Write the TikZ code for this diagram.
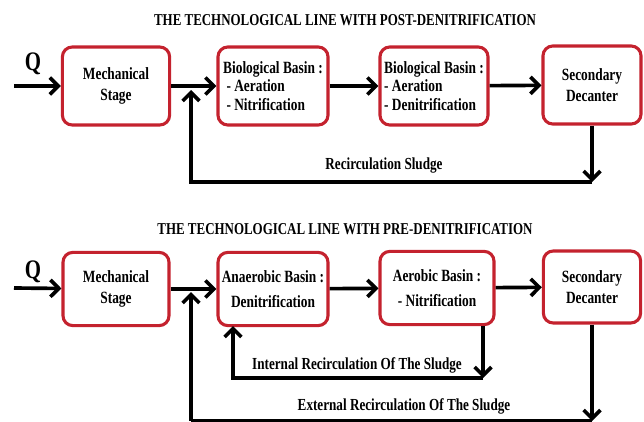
\documentclass[tikz,border=0pt]{standalone}
\usepackage{fontspec}
\setmainfont[FakeStretch=0.78]{Liberation Serif}
\usetikzlibrary{arrows.meta,positioning}

\definecolor{boxred}{RGB}{196,34,46}
\tikzset{
  stage/.style={draw=boxred,line width=2.2pt,rounded corners=7pt,fill=white,
    align=center,minimum height=1.95cm,inner sep=2pt,
    font=\bfseries\fontsize{12.2}{14.5}\selectfont},
  flow/.style={-{Straight Barb[length=6pt,width=12pt]},line width=2.6pt},
  line/.style={line width=2.6pt},
  caption/.style={font=\bfseries\fontsize{11.8}{13}\selectfont},
  tag/.style={font=\bfseries\fontsize{12}{13}\selectfont},
  inflow/.style={font=\bfseries\fontsize{19}{21}\selectfont}
}

\begin{document}
\begin{tikzpicture}[x=0.025cm,y=-0.025cm]
\useasboundingbox (0,0) rectangle (644,421);

% post-denitrification
\node[caption] (t1) at (345,20) {THE TECHNOLOGICAL LINE WITH POST-DENITRIFICATION};
\node[inflow] (q1) at (33,64) {Q};
\node[stage,minimum width=2.68cm] (mech1) at (116,86) {Mechanical\\Stage};
\node[stage,minimum width=2.75cm,align=left] (bio1) at (273,86) {Biological Basin :\\[-1.5pt] ~- Aeration\\[-1.5pt] ~- Nitrification};
\node[stage,minimum width=2.7cm,align=left] (bio2) at (434,86) {Biological Basin :\\[-1.5pt] - Aeration\\[-1.5pt] - Denitrification};
\node[stage,minimum width=2.45cm] (dec1) at (592,85) {Secondary\\Decanter};
\node[tag] (lbl1) at (384,166) {Recirculation Sludge};
\coordinate (in1) at (14,86);
\coordinate (j1) at (191,90);
\coordinate (r1) at (592,182);
\coordinate (r2) at (191,182);

\draw[flow] (in1) -- (mech1);
\draw[flow] (mech1) -- (bio1);
\draw[flow] (bio1) -- (bio2);
\draw[flow] (bio2) -- (dec1);
\draw[flow] (dec1) -- (r1);
\draw[flow] (r1) -- (r2) -- (j1);

% pre-denitrification
\node[caption] (t2) at (345,229) {THE TECHNOLOGICAL LINE WITH PRE-DENITRIFICATION};
\node[inflow] (q2) at (33,272) {Q};
\node[stage,minimum width=2.65cm,minimum height=1.83cm] (mech2) at (116,289) {Mechanical\\Stage};
\node[stage,minimum width=2.75cm,minimum height=1.83cm] (ana) at (273,289) {Anaerobic Basin :\\[3pt] Denitrification};
\node[stage,minimum width=2.85cm,minimum height=1.83cm] (aer) at (437,288) {Aerobic Basin :\\[3pt] - Nitrification};
\node[stage,minimum width=2.43cm,minimum height=1.8cm] (dec2) at (592,287) {Secondary\\Decanter};
\node[tag] (lbl2) at (357,365) {Internal Recirculation Of The Sludge};
\node[tag] (lbl3) at (404,406) {External Recirculation Of The Sludge};
\coordinate (in2) at (14,288);
\coordinate (j2) at (191,292);
\coordinate (s1) at (483,378);
\coordinate (s2) at (233,378);
\coordinate (s3) at (233,326);
\coordinate (e1) at (592,421);
\coordinate (e2) at (191,421);

\draw[flow] (in2) -- (mech2);
\draw[flow] (mech2) -- (ana);
\draw[flow] (ana) -- (aer);
\draw[flow] (aer) -- (dec2);
\draw[flow] (aer.south -| s1) -- (s1);
\draw[flow] (s1) -- (s2) -- (s3);
\draw[flow] (dec2) -- (e1);
\draw[line] (e1) -- (e2);
\draw[flow] (e2) -- (j2);
\end{tikzpicture}
\end{document}
